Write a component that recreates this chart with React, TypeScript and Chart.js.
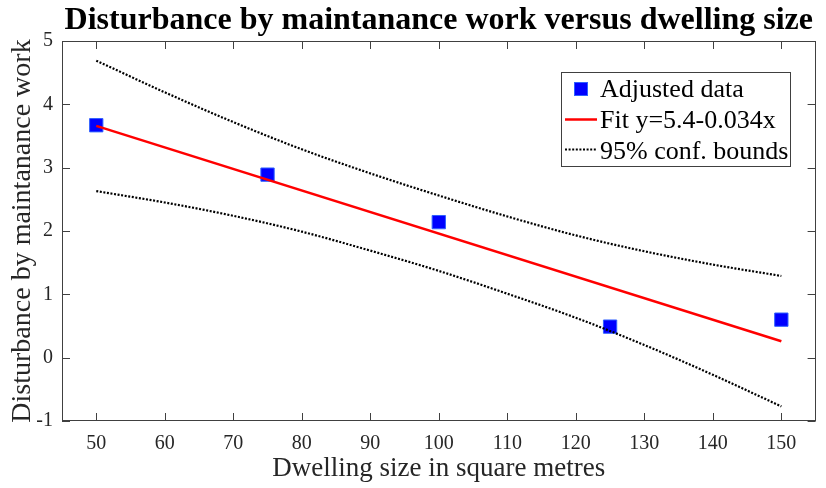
import React, { useEffect, useRef } from 'react';
import { Chart, registerables } from 'chart.js';

Chart.register(...registerables);

// ---- data ----
const dwellingSizes = [50, 75, 100, 125, 150];
const adjustedDisturbance = [3.67, 2.89, 2.14, 0.49, 0.6];

const fitSizes = [50, 150];
const fitValues = [3.66, 0.26];

const boundSizes = [50, 60, 70, 80, 90, 100, 110, 120, 130, 140, 150];
const upperBound = [4.69, 4.19, 3.72, 3.29, 2.91, 2.56, 2.23, 1.93, 1.68, 1.47, 1.29];
const lowerBound = [2.63, 2.45, 2.24, 1.99, 1.69, 1.37, 1.01, 0.63, 0.2, -0.27, -0.77];

const xTickValues = [50, 60, 70, 80, 90, 100, 110, 120, 130, 140, 150];
const yTickValues = [-1, 0, 1, 2, 3, 4, 5];

const titleText = 'Disturbance by maintanance work versus dwelling size';
const xAxisLabel = 'Dwelling size in square metres';
const yAxisLabel = 'Disturbance by maintanance work';
const seriesLabels = ['Adjusted data', 'Fit y=5.4-0.034x', '95% conf. bounds'];

const SERIF = '"Liberation Serif", "Times New Roman", serif';
const AXIS_COLOR = '#404040';
const TEXT_COLOR = '#262626';

const toXY = (xs: number[], ys: number[]) => xs.map((x, i) => ({ x, y: ys[i] }));

const decorPlugin = {
  id: 'matlabDecor',
  afterDraw(chart: any) {
    const ctx: CanvasRenderingContext2D = chart.ctx;
    const { left, right, top, bottom } = chart.chartArea;
    const xs = chart.scales.x;
    const ys = chart.scales.y;
    ctx.save();
    // box
    ctx.strokeStyle = AXIS_COLOR;
    ctx.lineWidth = 1;
    ctx.strokeRect(Math.round(left) + 0.5, Math.round(top) + 0.5, Math.round(right - left) - 1, Math.round(bottom - top) - 1);
    // inner ticks
    const tl = 8;
    ctx.beginPath();
    xTickValues.forEach((v) => {
      const px = Math.round(xs.getPixelForValue(v)) + 0.5;
      ctx.moveTo(px, bottom);
      ctx.lineTo(px, bottom - tl);
      ctx.moveTo(px, top);
      ctx.lineTo(px, top + tl);
    });
    yTickValues.forEach((v) => {
      const py = Math.round(ys.getPixelForValue(v)) + 0.5;
      ctx.moveTo(left, py);
      ctx.lineTo(left + tl, py);
      ctx.moveTo(right, py);
      ctx.lineTo(right - tl, py);
    });
    ctx.stroke();

    // title
    const cx = (left + right) / 2;
    ctx.fillStyle = '#000000';
    ctx.textAlign = 'center';
    ctx.textBaseline = 'alphabetic';
    ctx.font = `bold 32px ${SERIF}`;
    ctx.fillText(titleText, cx, 29);

    // x label
    ctx.fillStyle = TEXT_COLOR;
    ctx.font = `27px ${SERIF}`;
    ctx.fillText(xAxisLabel, cx, 476);

    // y label
    ctx.save();
    ctx.font = `28px ${SERIF}`;
    ctx.translate(30, (top + bottom) / 2);
    ctx.rotate(-Math.PI / 2);
    ctx.fillText(yAxisLabel, 0, 0);
    ctx.restore();

    // legend
    const lx0 = 561.5, ly0 = 72.5, lx1 = 790.5, ly1 = 166.5;
    ctx.fillStyle = '#ffffff';
    ctx.fillRect(lx0, ly0, lx1 - lx0, ly1 - ly0);
    ctx.strokeStyle = AXIS_COLOR;
    ctx.lineWidth = 1;
    ctx.strokeRect(lx0, ly0, lx1 - lx0, ly1 - ly0);

    const ds = chart.data.datasets;
    // marker
    ctx.fillStyle = ds[0].backgroundColor;
    ctx.strokeStyle = ds[0].borderColor;
    ctx.fillRect(574.5, 82.5, 13, 13);
    ctx.strokeRect(574.5, 82.5, 13, 13);
    // fit line
    ctx.beginPath();
    ctx.strokeStyle = ds[1].borderColor;
    ctx.lineWidth = ds[1].borderWidth;
    ctx.moveTo(565, 119.5);
    ctx.lineTo(597, 119.5);
    ctx.stroke();
    // bounds line
    ctx.beginPath();
    ctx.strokeStyle = ds[2].borderColor;
    ctx.lineWidth = ds[2].borderWidth;
    ctx.setLineDash(ds[2].borderDash);
    ctx.moveTo(565, 149.5);
    ctx.lineTo(597, 149.5);
    ctx.stroke();
    ctx.setLineDash([]);

    ctx.fillStyle = '#000000';
    ctx.textAlign = 'left';
    ctx.font = `26px ${SERIF}`;
    ctx.fillText(seriesLabels[0], 600, 97);
    ctx.fillText(seriesLabels[1], 600, 128);
    ctx.fillText(seriesLabels[2], 600, 159);
    ctx.restore();
  },
};

export default function App() {
  const ref = useRef<HTMLCanvasElement | null>(null);

  useEffect(() => {
    if (!ref.current) return;
    const boundStyle = {
      borderColor: '#000000',
      borderWidth: 2.2,
      borderDash: [2, 1.6],
      pointRadius: 0,
      showLine: true,
      fill: false,
      cubicInterpolationMode: 'monotone',
      order: 1,
    };
    const chart = new Chart(ref.current, {
      type: 'scatter',
      data: {
        datasets: [
          {
            label: seriesLabels[0],
            data: toXY(dwellingSizes, adjustedDisturbance),
            backgroundColor: '#0000ff',
            borderColor: '#3060ff',
            borderWidth: 1,
            pointStyle: 'rect',
            pointRadius: 9.4,
            showLine: false,
            order: 3,
          },
          {
            label: seriesLabels[1],
            data: toXY(fitSizes, fitValues),
            borderColor: '#ff0000',
            backgroundColor: '#ff0000',
            borderWidth: 2.5,
            pointRadius: 0,
            showLine: true,
            order: 2,
          },
          {
            label: seriesLabels[2],
            data: toXY(boundSizes, upperBound),
            ...boundStyle,
          },
          {
            label: 'lower',
            data: toXY(boundSizes, lowerBound),
            ...boundStyle,
          },
        ],
      } as any,
      options: {
        responsive: false,
        animation: false,
        layout: { padding: { top: 41, right: 8, left: 0, bottom: 0 } },
        plugins: {
          legend: { display: false },
          title: { display: false },
          tooltip: { enabled: false },
        },
        scales: {
          x: {
            type: 'linear',
            min: 45,
            max: 155,
            afterBuildTicks: (s: any) => {
              s.ticks = xTickValues.map((v) => ({ value: v }));
            },
            afterFit: (s: any) => {
              s.height = 67;
            },
            grid: { display: false, drawTicks: false },
            border: { display: false },
            ticks: {
              font: { family: SERIF, size: 20 },
              color: TEXT_COLOR,
              padding: 11,
              maxRotation: 0,
              autoSkip: false,
            },
          },
          y: {
            type: 'linear',
            min: -1,
            max: 5,
            afterBuildTicks: (s: any) => {
              s.ticks = yTickValues.map((v) => ({ value: v }));
            },
            afterFit: (s: any) => {
              s.width = 62;
            },
            grid: { display: false, drawTicks: false },
            border: { display: false },
            ticks: {
              font: { family: SERIF, size: 20 },
              color: TEXT_COLOR,
              padding: 9,
              autoSkip: false,
            },
          },
        },
      } as any,
      plugins: [decorPlugin],
    });
    return () => chart.destroy();
  }, []);

  return (
    <div style={{ position: 'absolute', left: 0, top: 0, width: 826, height: 488, background: '#ffffff' }}>
      <canvas ref={ref} width={826} height={488} style={{ display: 'block' }} />
    </div>
  );
}
